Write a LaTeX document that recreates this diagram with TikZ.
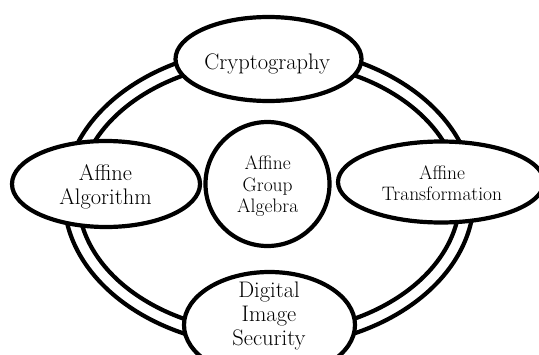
\documentclass[tikz,border=0pt]{standalone}
\usetikzlibrary{shapes.geometric}
\begin{document}
\begin{tikzpicture}[x=1pt,y=-1pt,
  ring/.style={line width=4.2pt},
  bubble/.style={ellipse, draw, line width=4.2pt, fill=white, inner sep=0pt},
  roundbubble/.style={circle, draw, line width=4.2pt, fill=white, inner sep=0pt},
  bigtext/.style={font=\fontsize{22.5}{24}\selectfont, align=center, anchor=base, inner sep=0pt},
  smalltext/.style={font=\fontsize{19.5}{21.6}\selectfont, align=center, anchor=base, inner sep=0pt}]
\useasboundingbox (0,0) rectangle (539,354);
\clip (0,0) rectangle (539,354);
% double ring
\draw[ring] (269,197) ellipse [x radius=205pt, y radius=150pt];
\draw[ring] (269,197) ellipse [x radius=191pt, y radius=136pt];
% bubbles
\node[bubble, minimum width=186pt, minimum height=84pt] (crypt) at (268.5,59) {};
\node[bubble, minimum width=188pt, minimum height=86pt] (algo) at (106,184) {};
\node[bubble, minimum width=206pt, minimum height=81pt] (trans) at (441,182) {};
\node[roundbubble, minimum size=124pt] (group) at (267.5,184) {};
\node[bubble, minimum width=171pt, minimum height=106pt] (digital) at (269.5,325) {};
% texts (anchored at the baseline of the last line)
\node[bigtext] (tcrypt) at (267.2,69) {Cryptography};
\node[bigtext] (talgo) at (105.5,204) {Affine\\Algorithm};
\node[smalltext] (ttrans) at (442,200.7) {Affine\\Transformation};
\node[smalltext] (tgroup) at (267.7,212.7) {Affine\\Group\\Algebra};
\node[bigtext] (tdigital) at (269,345) {Digital\\Image\\Security};
\end{tikzpicture}
\end{document}
